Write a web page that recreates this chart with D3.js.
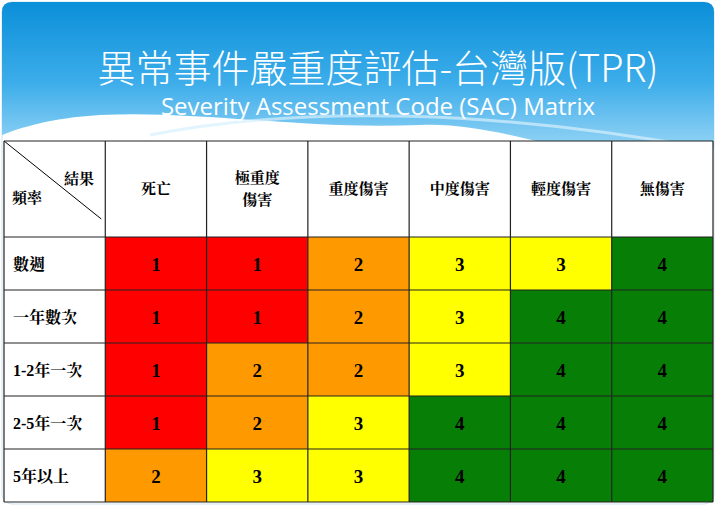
<!DOCTYPE html>
<html><head><meta charset="utf-8">
<script src="https://cdn.jsdelivr.net/npm/d3@7"></script>
<style>body{margin:0;background:#fff}svg{display:block}</style></head>
<body><svg id="c" width="716" height="506"></svg>
<script>
const title = "異常事件嚴重度評估-台灣版(TPR)";
const subtitle = "Severity Assessment Code (SAC) Matrix";
const cornerTop = "結果", cornerBottom = "頻率";
const consequences = ["死亡", "極重度\n傷害", "重度傷害", "中度傷害", "輕度傷害", "無傷害"];
const frequencies = ["數週", "一年數次", "1-2年一次", "2-5年一次", "5年以上"];
const sacValues = [
  [1,1,2,3,3,4],
  [1,1,2,3,4,4],
  [1,2,2,3,4,4],
  [1,2,3,4,4,4],
  [2,3,3,4,4,4]
];
const levelColors = {1:"#ff0000",2:"#ff9900",3:"#ffff00",4:"#077f07"};

const svg = d3.select("#c");
const defs = svg.append("defs");
const g = defs.append("linearGradient").attr("id","bg").attr("x1",0).attr("y1",0).attr("x2",0).attr("y2",1);
g.append("stop").attr("offset","0").attr("stop-color","#0b8fd9");
g.append("stop").attr("offset","0.5").attr("stop-color","#3cadea");
g.append("stop").attr("offset","1").attr("stop-color","#a8dcf7");
svg.append("rect").attr("x",2).attr("y",2).attr("width",712).attr("height",502).attr("rx",10).attr("fill","#fff").attr("stroke","#cfe3ef");
svg.append("path").attr("d","M2,12 Q2,2 12,2 L704,2 Q714,2 714,12 L714,150 C640,190 520,120 420,125 C300,130 200,110 100,115 C50,118 20,128 2,135 Z").attr("fill","url(#bg)");
svg.append("path").attr("d","M150,135 C300,105 500,110 714,150").attr("fill","none").attr("stroke","#d5effc").attr("stroke-width",3).attr("opacity",0.7);

svg.append("text").attr("x",378).attr("y",82).attr("text-anchor","middle").attr("fill","#fff")
  .attr("font-family","'Noto Sans CJK TC'").attr("font-weight",300).attr("font-size",38).text(title);
svg.append("text").attr("x",378).attr("y",115).attr("text-anchor","middle").attr("fill","#fff")
  .attr("font-family","'Open Sans'").attr("font-size",24).text(subtitle);

const x = d3.scaleBand().domain(d3.range(7)).range([4,713]);
const y = d3.scaleBand().domain(d3.range(5)).range([237,502]);
const hTop = 141, hb = 237;
const tf = "'Noto Serif CJK TC','Noto Sans CJK TC',serif";

svg.append("rect").attr("x",4).attr("y",hTop).attr("width",709).attr("height",hb-hTop).attr("fill","#fff");
const hdr = svg.append("g");
consequences.forEach((c,i)=>{
  const lines = c.split("\n");
  const cx = x(i+1)+x.bandwidth()/2;
  lines.forEach((l,k)=>{
    hdr.append("text").attr("x",cx).attr("y",(hTop+hb)/2+5+(k-(lines.length-1)/2)*22)
      .attr("text-anchor","middle").attr("font-family",tf).attr("font-weight",700).attr("font-size",15).text(l);
  });
});
svg.append("line").attr("x1",4).attr("y1",hTop).attr("x2",x(1)-4).attr("y2",hb-18).attr("stroke","#000");
svg.append("text").attr("x",64).attr("y",184).attr("font-family",tf).attr("font-weight",700).attr("font-size",15).text(cornerTop);
svg.append("text").attr("x",12).attr("y",203).attr("font-family",tf).attr("font-weight",700).attr("font-size",15).text(cornerBottom);

frequencies.forEach((f,r)=>{
  svg.append("rect").attr("x",x(0)).attr("y",y(r)).attr("width",x.bandwidth()).attr("height",y.bandwidth()).attr("fill","#fff");
  svg.append("text").attr("x",x(0)+9).attr("y",y(r)+y.bandwidth()/2+6).attr("font-family","'Liberation Serif','Noto Serif CJK TC',serif")
    .attr("font-weight",700).attr("font-size",16).text(f);
  sacValues[r].forEach((v,c)=>{
    svg.append("rect").attr("x",x(c+1)).attr("y",y(r)).attr("width",x.bandwidth()).attr("height",y.bandwidth()).attr("fill",levelColors[v]);
    svg.append("text").attr("x",x(c+1)+x.bandwidth()/2).attr("y",y(r)+y.bandwidth()/2+7).attr("text-anchor","middle")
      .attr("font-family","'Liberation Serif',serif").attr("font-weight",700).attr("font-size",19).text(v);
  });
});
const gl = svg.append("g").attr("stroke","#222").attr("stroke-width",1.2);
d3.range(8).forEach(i=>{const xx = i<7?x(i):713; gl.append("line").attr("x1",xx).attr("x2",xx).attr("y1",hTop).attr("y2",502);});
[hTop,hb].concat(d3.range(1,5).map(r=>y(r)),[502]).forEach(yy=>gl.append("line").attr("x1",4).attr("x2",713).attr("y1",yy).attr("y2",yy));
</script></body></html>
